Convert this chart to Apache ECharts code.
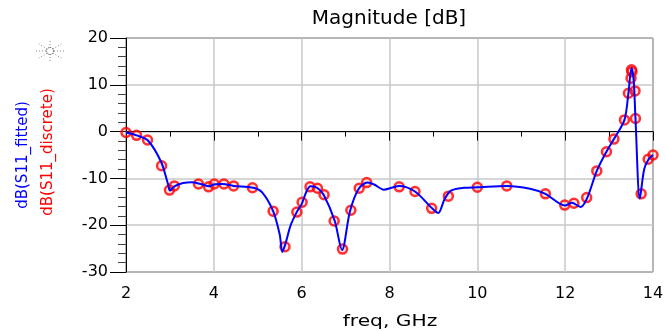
<!DOCTYPE html>
<html>
<head>
<meta charset="utf-8">
<script src="https://cdn.jsdelivr.net/npm/echarts@6/dist/echarts.min.js"></script>
<style>
  html, body { margin: 0; padding: 0; background: #fff; }
  #chart { width: 666px; height: 331px; }
</style>
</head>
<body>
<div id="chart"></div>
<script>
// discrete samples (red circles)
const discreteFreq = [2.0, 2.24, 2.49, 2.81, 2.99, 3.1, 3.65, 3.88, 4.01, 4.23, 4.45, 4.88,
  5.35, 5.62, 5.89, 6.01, 6.19, 6.36, 6.51, 6.74, 6.93, 7.12, 7.31, 7.48,
  8.22, 8.58, 8.96, 9.34, 10.0, 10.67, 11.55, 11.99, 12.2, 12.49, 12.72, 12.94,
  13.11, 13.35, 13.44, 13.5, 13.51, 13.52, 13.59, 13.6, 13.73, 13.89, 14.0]
const discreteDb = [-0.2, -0.8, -1.8, -7.3, -12.5, -11.6, -11.2, -11.8, -11.2, -11.2, -11.6, -12.0,
  -17.0, -24.6, -17.2, -15.1, -11.8, -12.1, -13.5, -19.1, -25.1, -16.8, -12.1, -10.9,
  -11.8, -12.8, -16.4, -13.8, -11.9, -11.6, -13.3, -15.7, -15.3, -14.1, -8.4, -4.3,
  -1.6, 2.5, 8.2, 11.4, 13.2, 12.8, 8.7, 2.8, -13.3, -5.9, -5.0]

// fitted response (blue line)
const fittedFreq = [2.0, 2.24, 2.5, 2.8, 2.95, 3.0, 3.1, 3.3, 3.5, 3.7, 3.9, 4.0, 4.2, 4.45, 4.9,
  5.1, 5.35, 5.5, 5.56, 5.63, 5.75, 5.9, 6.0, 6.1, 6.2, 6.35, 6.5, 6.75, 6.92, 7.1, 7.3,
  7.5, 7.65, 7.87, 8.05, 8.22, 8.58, 8.96, 9.11, 9.25, 9.4, 9.7, 10.0, 10.67, 11.2, 11.55,
  12.0, 12.15, 12.35, 12.5, 12.72, 12.94, 13.11, 13.35, 13.44, 13.51, 13.56, 13.6, 13.7,
  13.8, 13.9, 14.0]
const fittedDb = [-0.2, -0.8, -1.9, -6.5, -11.0, -12.6, -11.7, -11.0, -10.8, -11.2, -11.7, -11.3, -11.2, -11.6, -12.0,
  -13.0, -17.0, -22.0, -25.7, -24.0, -20.0, -17.0, -15.5, -13.0, -11.7, -12.0, -13.5, -19.0, -25.3, -17.0, -12.2,
  -10.9, -11.3, -12.4, -12.0, -11.6, -12.8, -16.3, -17.4, -14.5, -12.6, -12.0, -11.9, -11.6, -12.2, -13.3,
  -15.8, -15.2, -16.1, -14.2, -8.4, -4.3, -1.6, 2.5, 8.2, 13.6, 11.0, 3.0, -14.3,
  -8.0, -5.9, -5.0]

const chart = echarts.init(document.getElementById('chart'))
const font = 'DejaVu Sans, Arial, sans-serif'

// dotted starburst at the top left
const star = []
for (let i = 0; i < 8; i++) {
  const a = (i * Math.PI) / 4
  star.push({
    type: 'line',
    shape: { x1: 50 + Math.cos(a) * 4, y1: 51 + Math.sin(a) * 3, x2: 50 + Math.cos(a) * 16, y2: 51 + Math.sin(a) * 10 },
    style: { stroke: '#888', lineWidth: 1, lineDash: [1, 2] },
  })
}
star.push({ type: 'circle', shape: { cx: 50, cy: 51, r: 3.5 }, style: { fill: 'none', stroke: '#444', lineWidth: 1, lineDash: [1, 1] } })

const option = {
  animation: false,
  grid: {
    left: 126, right: 13, top: 38, bottom: 59,
    outerBoundsMode: 'none', containLabel: false,
    show: true, borderColor: '#000', borderWidth: 1,
  },
  xAxis: {
    type: 'value', min: 2, max: 14, interval: 2,
    axisLine: { show: true, lineStyle: { color: '#000', width: 1 } },
    axisTick: { show: true, length: 9, lineStyle: { color: '#000' } },
    minorTick: { show: true, splitNumber: 2, length: 5, lineStyle: { color: '#000' } },
    axisLabel: { fontFamily: font, fontSize: 16, color: '#000', margin: 14 },
    splitLine: { show: true, lineStyle: { color: '#c8c8c8', width: 1.5 } },
  },
  yAxis: {
    type: 'value', min: -30, max: 20, interval: 10,
    axisLine: { show: true, lineStyle: { color: '#000', width: 1 } },
    axisTick: { show: true, length: 16, lineStyle: { color: '#000' } },
    minorTick: { show: true, splitNumber: 5, length: 8, lineStyle: { color: '#444' } },
    axisLabel: { fontFamily: font, fontSize: 16, color: '#000', margin: 18 },
    splitLine: { show: true, lineStyle: { color: '#c8c8c8', width: 1.5 } },
  },
  graphic: [
    {
      type: 'text', x: 389, y: 19,
      style: { text: 'Magnitude [dB]', fill: '#000', font: '20px ' + font, align: 'center', verticalAlign: 'middle' },
    },
    {
      type: 'text', x: 390, y: 322, scaleX: 1.35,
      style: { text: 'freq, GHz', fill: '#000', font: '15px ' + font, align: 'center', verticalAlign: 'middle' },
    },
    {
      type: 'text', x: 23, y: 155, rotation: Math.PI / 2,
      style: { text: 'dB(S11_fitted)', fill: '#0000ff', font: '15px ' + font, align: 'center', verticalAlign: 'middle' },
    },
    {
      type: 'text', x: 48, y: 152, rotation: Math.PI / 2,
      style: { text: 'dB(S11_discrete)', fill: '#ff0000', font: '15px ' + font, align: 'center', verticalAlign: 'middle' },
    },
    { type: 'group', children: star },
  ],
  series: [
    {
      type: 'scatter',
      data: discreteFreq.map((f, i) => [f, discreteDb[i]]),
      symbol: 'circle', symbolSize: 9,
      itemStyle: { color: 'rgba(255,120,120,0.25)', borderColor: '#ff0000', borderWidth: 2.5 },
      z: 2,
    },
    {
      type: 'line',
      data: fittedFreq.map((f, i) => [f, fittedDb[i]]),
      smooth: 0.3, symbol: 'none',
      lineStyle: { color: '#0000ff', width: 2 },
      z: 3,
    },
  ],
}

chart.setOption(option)
</script>
</body>
</html>
